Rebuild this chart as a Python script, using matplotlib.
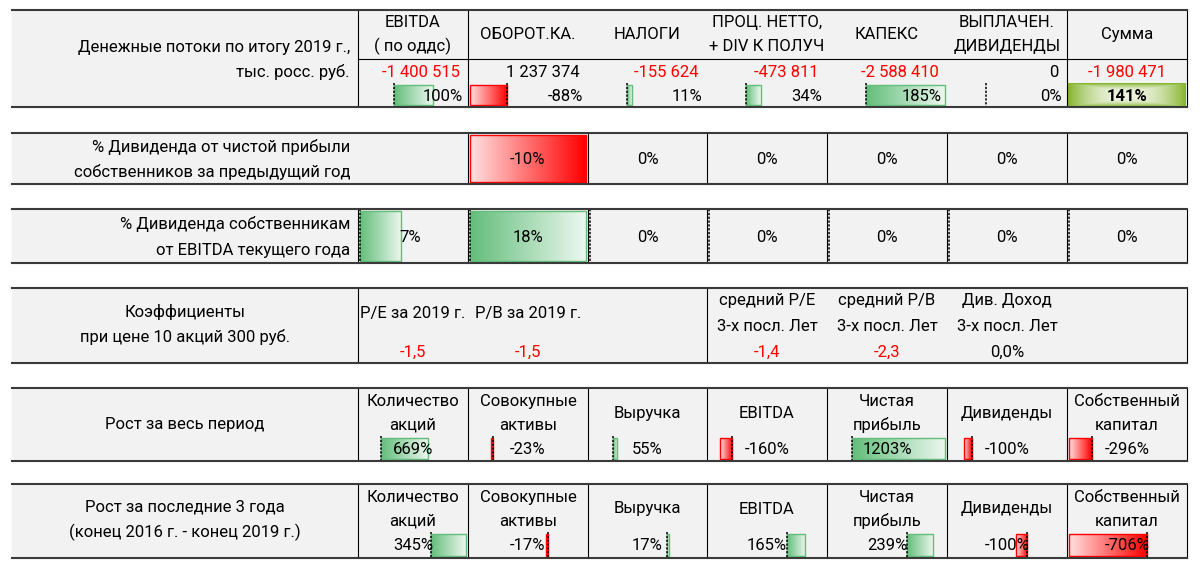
import numpy as np
import matplotlib
matplotlib.use("Agg")
import matplotlib.pyplot as plt
from matplotlib.patches import Rectangle
from matplotlib.colors import to_rgb

plt.rcParams['font.family'] = ['Roboto', 'DejaVu Sans']
FS = 12

# ---- data ----
cf_headers = ["EBITDA\n( по оддс)", "ОБОРОТ.КА.", "НАЛОГИ", "ПРОЦ. НЕТТО,\n+ DIV К ПОЛУЧ",
              "КАПЕКС", "ВЫПЛАЧЕН.\nДИВИДЕНДЫ", "Сумма"]
cf_values = [-1400515, 1237374, -155624, -473811, -2588410, 0, -1980471]
cf_shares = [100, -88, 11, 34, 185, 0]
cf_total_share = 141

div_prev_profit = [-10, 0, 0, 0, 0, 0]          # columns 2..7
div_ebitda = [7, 18, 0, 0, 0, 0, 0]             # columns 1..7

ratio_labels = ["P/E за 2019 г.", "P/B за 2019 г.", "средний P/E\n3-х посл. Лет",
                "средний P/B\n3-х посл. Лет", "Див. Доход\n3-х посл. Лет"]
ratio_values = [-1.5, -1.5, -1.4, -2.3, 0.0]

growth_headers = ["Количество\nакций", "Совокупные\nактивы", "Выручка", "EBITDA",
                  "Чистая\nприбыль", "Дивиденды", "Собственный\nкапитал"]
growth_all = [669, -23, 55, -160, 1203, -100, -296]
growth_3y = [345, -17, 17, 165, 239, -100, -706]

# ---- layout (pixel grid) ----
X0 = 12
EDGES = [358, 468, 588, 707, 827, 947, 1067, 1187]
BG = "#F2F2F2"
GREEN = "#63BE7B"
RED = "#FF0000"

fig = plt.figure(figsize=(12, 5.69), dpi=100)
ax = fig.add_axes([0, 0, 1, 1])


def col(i):
    return EDGES[i], EDGES[i + 1]


def cx(i):
    return (EDGES[i] + EDGES[i + 1]) / 2


def section(y0, y1, vlines):
    ax.add_patch(Rectangle((X0, y0), EDGES[-1] - X0, y1 - y0, color=BG, zorder=0))
    for x in vlines:
        ax.plot([x, x], [y0, y1], color="black", lw=0.8, zorder=3)
    for y in (y0, y1):
        ax.plot([X0, EDGES[-1]], [y, y], color="#3a3a3a", lw=1.5, zorder=4)


def fmt_num(v):
    return f"{v:,}".replace(",", " ")


def gradient_bar(xa, xe, y0, y1, color):
    if abs(xe - xa) < 0.5:
        return
    rgb = np.array(to_rgb(color))
    t = np.linspace(0, 1, 100)[:, None]
    cols = rgb * (1 - 0.88 * t) + 0.88 * t
    arr = cols[None, :, :]
    if xe < xa:
        arr = arr[:, ::-1]
    l, r = min(xa, xe), max(xa, xe)
    ax.imshow(arr, extent=(l, r, y1, y0), aspect="auto", interpolation="bilinear", zorder=2)
    ax.add_patch(Rectangle((l, y0), r - l, y1 - y0, fill=False, edgecolor=color, lw=1, zorder=2.5))


def data_bars(values, first_col, y0, y1, show_axis=True, pad=2):
    lo, hi = min(min(values), 0), max(max(values), 0)
    rng = hi - lo if hi > lo else 1
    frac = -lo / rng
    for k, v in enumerate(values):
        l, r = col(first_col + k)
        w = r - l - 2 * pad
        xa = l + pad + frac * w
        xe = xa + v / rng * w
        gradient_bar(xa, xe, y0 + 2, y1 - 2, GREEN if v >= 0 else RED)
        if show_axis:
            ax.plot([xa, xa], [y0, y1], color="black", lw=1.1, ls=(0, (1.5, 1)), zorder=3)


def txt(x, y, s, ha="center", color="black", gap=25, **kw):
    # one text per line so the line pitch follows the sheet rows
    lines = s.split("\n")
    top = y - gap * (len(lines) - 1) / 2
    for j, line in enumerate(lines):
        ax.text(x, top + j * gap, line, ha=ha, va="center", fontsize=FS, color=color,
                zorder=5, **kw)


# ---- section 1: cash flows ----
s1 = (10, 107)
section(*s1, [358, 468, 1067, 1187])
ax.plot([358, 1187], [59, 59], color="black", lw=0.8, zorder=3)
txt(350, 47, "Денежные потоки по итогу 2019 г.,", ha="right")
txt(350, 72, "тыс. росс. руб.", ha="right")
for i, h in enumerate(cf_headers):
    txt(cx(i), 34, h, gap=24)
for i, v in enumerate(cf_values):
    c = RED if v < 0 else "black"
    if i == 6:
        txt(cx(i), 72, fmt_num(v), color=c)
    else:
        txt(EDGES[i + 1] - 8, 72, fmt_num(v), ha="right", color=c)
data_bars(cf_shares, 0, 83, 107)
for i, v in enumerate(cf_shares):
    txt(EDGES[i + 1] - 5, 96, f"{v}%", ha="right")
# total cell with centre-light fill
nx, ny = 120, 24
u = np.abs(np.linspace(-1, 1, nx))[None, :]
w = np.abs(np.linspace(-1, 1, ny))[:, None]
m = np.clip(np.maximum(u ** 2, w ** 3), 0, 1)[..., None]
g_edge, g_mid = np.array(to_rgb("#86B52E")), np.array(to_rgb("#EEF4E2"))
ax.imshow(g_mid * (1 - m) + g_edge * m, extent=(1068, 1186, 107, 83), aspect="auto",
          interpolation="bilinear", zorder=2)
txt(cx(6), 96, f"{cf_total_share}%", fontweight="bold")

# ---- section 2: dividend share of previous profit ----
s2 = (133, 184)
section(*s2, EDGES[1:])
txt(350, 147, "% Дивиденда от чистой прибыли", ha="right")
txt(350, 172, "собственников за предыдущий год", ha="right")
data_bars(div_prev_profit, 1, *s2, show_axis=False)
for k, v in enumerate(div_prev_profit):
    txt(cx(k + 1), 159, f"{v}%")

# ---- section 3: dividend share of EBITDA ----
s3 = (209, 263)
section(*s3, EDGES)
txt(350, 224, "% Дивиденда собственникам", ha="right")
txt(350, 250, "от EBITDA текущего года", ha="right")
data_bars(div_ebitda, 0, *s3)
for k, v in enumerate(div_ebitda):
    txt(cx(k) - (3 if k == 0 else 0), 237, f"{v}%")

# ---- section 4: ratios ----
s4 = (288, 363)
section(*s4, [358, 707, 1187])
txt(185, 312, "Коэффициенты")
txt(185, 337, "при цене 10 акций 300 руб.")
ratio_cols = [0, 1, 3, 4, 5]
for k, (lab, v) in enumerate(zip(ratio_labels, ratio_values)):
    c = cx(ratio_cols[k])
    s = f"{v:.1f}".replace(".", ",")
    if k == 4:
        s += "%"
    if "\n" in lab:
        txt(c, 313, lab, gap=26)
    else:
        txt(c, 313, lab)
    txt(c, 352, s, color=RED if v < 0 else "black")

# ---- sections 5 and 6: growth ----
for (y0, y1), title, vals in [((388, 461), "Рост за весь период", growth_all),
                             ((484, 558), "Рост за последние 3 года\n(конец 2016 г. - конец 2019 г.)",
                              growth_3y)]:
    section(y0, y1, EDGES)
    txt(185, y0 + 36, title)
    for i, h in enumerate(growth_headers):
        txt(cx(i), y0 + 25, h, gap=24)
    data_bars(vals, 0, y0 + 48, y1)
    for i, v in enumerate(vals):
        txt(cx(i), y0 + 61, f"{v}%")

ax.set_xlim(0, 1200)
ax.set_ylim(569, 0)
ax.axis("off")
fig.savefig("out.png", dpi=100, facecolor="white")
